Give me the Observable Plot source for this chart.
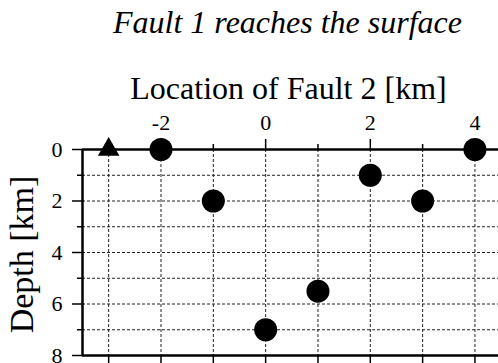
<!DOCTYPE html>
<html>
<head>
<meta charset="utf-8">
<script src="https://cdn.jsdelivr.net/npm/d3@7"></script>
<script src="https://cdn.jsdelivr.net/npm/@observablehq/plot@0.6"></script>
<style>
  html, body { margin: 0; padding: 0; background: #fff; }
  #chart svg, #chart svg text { font-family: "Liberation Serif", "Times New Roman", serif !important; }
  #chart svg g[aria-label$="tick label"], #chart svg g[aria-label$="tick label"] text { font-size: 22px !important; }
</style>
</head>
<body>
<div id="chart"></div>
<script>
const titleText = "Fault 1 reaches the surface";
const xLabel = "Location of Fault 2 [km]";
const yLabel = "Depth [km]";

// Fault 2 locations (km) and resulting depths (km)
const locations = [-2, -1, 0, 1, 2, 3, 4];
const depths = [0, 2, 7, 5.5, 1, 2, 0];

// Surface point of Fault 1 (triangle)
const surfaceLocations = [-3];
const surfaceDepths = [0];

// Tick values
const xMajorTicks = [-2, 0, 2, 4];
const xMinorTicks = [-3, -1, 1, 3];
const yMajorTicks = [0, 2, 4, 6, 8];
const yMinorTicks = [1, 3, 5, 7];
const xGrid = [-3, -2, -1, 0, 1, 2, 3, 4];
const yGrid = [1, 2, 3, 4, 5, 6, 7];

const points = locations.map((x, i) => ({x, y: depths[i]}));
const surface = surfaceLocations.map((x, i) => ({x, y: surfaceDepths[i]}));

const serif = "Liberation Serif";
const font = 22;
const big = 32;
const fmt = d => String(d);
const chart = Plot.plot({
  width: 498,
  height: 363,
  marginTop: 149,
  marginLeft: 82,
  marginRight: 0,
  marginBottom: 8,
  style: {fontFamily: serif, color: "#000", background: "#fff", overflow: "visible"},
  x: {domain: [-3.5, 4.45]},
  y: {domain: [0, 8], reverse: true},
  marks: [
    Plot.gridX(xGrid, {stroke: "#222", strokeOpacity: 1, strokeWidth: 1, strokeDasharray: "3,2"}),
    Plot.gridY(yGrid, {stroke: "#222", strokeOpacity: 1, strokeWidth: 1, strokeDasharray: "3,2"}),
    Plot.axisX(xMajorTicks, {anchor: "top", tickSize: 11, tickPadding: 9, fontSize: font, fontFamily: serif, label: null, strokeWidth: 1.5, tickFormat: fmt}),
    Plot.axisX(xMinorTicks, {anchor: "top", tickSize: 6, tickFormat: () => "", label: null, strokeWidth: 1.5}),
    Plot.axisX(xGrid, {anchor: "bottom", tickSize: 10, tickFormat: () => "", label: null, strokeWidth: 1.5}),
    Plot.axisY(yMajorTicks, {anchor: "left", tickSize: 10, tickPadding: 10, fontSize: font, fontFamily: serif, label: null, strokeWidth: 1.5, tickFormat: fmt}),
    Plot.axisY(yMinorTicks, {anchor: "left", tickSize: 5, tickFormat: () => "", label: null, strokeWidth: 1.5}),
    Plot.ruleY([0, 8], {stroke: "#000", strokeWidth: 2.5}),
    Plot.ruleX([-3.5], {stroke: "#000", strokeWidth: 2.5}),
    Plot.dot(points, {x: "x", y: "y", r: 11.5, fill: "#000", stroke: "none"}),
    Plot.dot(surface, {x: "x", y: "y", r: 8, symbol: "triangle", fill: "#000", stroke: "none"}),
    Plot.text([titleText], {text: d => d, frameAnchor: "top", dx: -3, dy: -127, fontSize: big, fontFamily: serif, fontStyle: "italic", fill: "#000", lineAnchor: "middle", textAnchor: "middle"}),
    Plot.text([xLabel], {text: d => d, frameAnchor: "top", dx: -2, dy: -61, fontSize: big, fontFamily: serif, fill: "#000", lineAnchor: "middle", textAnchor: "middle"}),
    Plot.text([yLabel], {text: d => d, frameAnchor: "left", dx: -60, dy: 2, rotate: -90, fontSize: 34, fontFamily: serif, fill: "#000", lineAnchor: "middle", textAnchor: "middle"})
  ]
});
document.getElementById("chart").appendChild(chart);
</script>
</body>
</html>
